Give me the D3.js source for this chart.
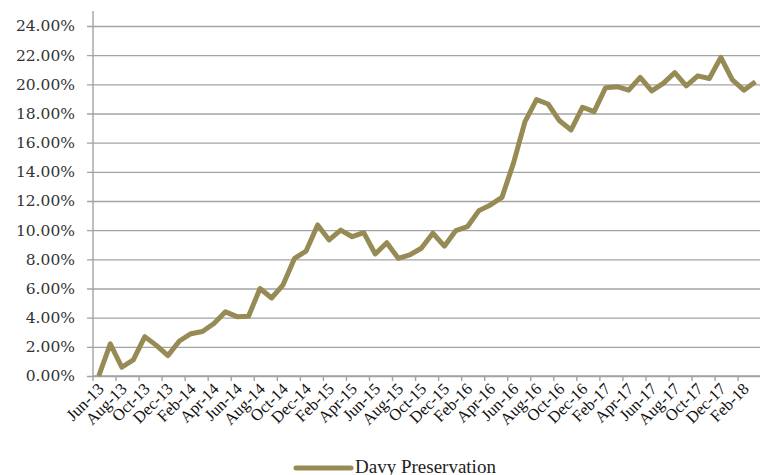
<!DOCTYPE html>
<html>
<head>
<meta charset="utf-8">
<script src="https://cdn.jsdelivr.net/npm/d3@7"></script>
<style>
  html, body { margin: 0; padding: 0; background: #fff; }
  #vis-line { width: 760px; height: 475px; overflow: hidden; }
  .chart-svg { display: block; }
</style>
</head>
<body>
<div id="vis-line"></div>
<script>
const months = [
  "Jun-13", "Jul-13", "Aug-13", "Sep-13", "Oct-13", "Nov-13", "Dec-13",
  "Jan-14", "Feb-14", "Mar-14", "Apr-14", "May-14", "Jun-14", "Jul-14",
  "Aug-14", "Sep-14", "Oct-14", "Nov-14", "Dec-14", "Jan-15", "Feb-15",
  "Mar-15", "Apr-15", "May-15", "Jun-15", "Jul-15", "Aug-15", "Sep-15",
  "Oct-15", "Nov-15", "Dec-15", "Jan-16", "Feb-16", "Mar-16", "Apr-16",
  "May-16", "Jun-16", "Jul-16", "Aug-16", "Sep-16", "Oct-16", "Nov-16",
  "Dec-16", "Jan-17", "Feb-17", "Mar-17", "Apr-17", "May-17", "Jun-17",
  "Jul-17", "Aug-17", "Sep-17", "Oct-17", "Nov-17", "Dec-17", "Jan-18",
  "Feb-18", "Mar-18",
];

// cumulative return, %
const preservation = [
  0.0, 2.2, 0.6, 1.1, 2.7, 2.1, 1.4,
  2.4, 2.9, 3.05, 3.6, 4.4, 4.07, 4.1,
  6.0, 5.35, 6.25, 8.07, 8.57, 10.36, 9.33,
  10.0, 9.55, 9.83, 8.37, 9.14, 8.07, 8.3,
  8.76, 9.79, 8.9, 9.97, 10.24, 11.34, 11.73,
  12.25, 14.6, 17.44, 18.95, 18.65, 17.5, 16.87,
  18.43, 18.13, 19.77, 19.84, 19.6, 20.48, 19.55,
  20.07, 20.8, 19.89, 20.58, 20.4, 21.85, 20.3,
  19.6, 20.18,
];

const yTicks = [0, 2, 4, 6, 8, 10, 12, 14, 16, 18, 20, 22, 24];
const seriesName = "Davy Preservation";

class LineChart {
  constructor({ categories, values, ticks, name }) {
    this.categories = categories;
    this.values = values;
    this.ticks = ticks;
    this.name = name;
    this.init();
  }

  init() {
    this.width = 760;
    this.height = 475;
    this.margin = { top: 11, left: 93, bottom: 376 };
    this.step = 11.52;

    this.x = d3
      .scaleBand()
      .domain(this.categories)
      .range([this.margin.left, this.margin.left + this.step * this.categories.length])
      .padding(0);

    this.y = d3.scaleLinear().domain([0, 24]).range([376, 26]);

    this.container = d3.select("#vis-line");
    this.svg = this.container
      .append("svg")
      .attr("class", "chart-svg")
      .attr("width", this.width)
      .attr("height", this.height);

    this.render();
  }

  render() {
    const gridColor = "#a3a3a3";
    const lineColor = "#978b55";
    const x0 = this.margin.left;
    const x1 = this.x.range()[1];

    // y axis with gridlines
    const yAxis = this.svg
      .append("g")
      .attr("class", "y-axis")
      .attr("transform", `translate(${x0},0)`)
      .call(
        d3
          .axisLeft(this.y)
          .tickValues(this.ticks)
          .tickSize(-(x1 - x0))
          .tickSizeOuter(0)
          .tickPadding(12)
          .tickFormat((d) => d3.format(".2f")(d) + "%")
      );
    yAxis.select(".domain").remove();
    yAxis
      .selectAll(".tick line")
      .attr("x1", -6)
      .attr("stroke", gridColor)
      .attr("stroke-width", 1.4);
    yAxis
      .selectAll(".tick text")
      .attr("x", -18)
      .attr("fill", "#333")
      .style("font-family", "'DejaVu Serif', serif")
      .style("font-size", "15.5px");

    this.svg
      .append("line")
      .attr("x1", x0)
      .attr("x2", x0)
      .attr("y1", this.margin.top)
      .attr("y2", this.y(0))
      .attr("stroke", gridColor)
      .attr("stroke-width", 1.4);

    // x axis: tick marks every second category boundary
    const xAxis = this.svg.append("g").attr("class", "x-axis");
    xAxis
      .append("line")
      .attr("x1", x0)
      .attr("x2", x1)
      .attr("y1", this.y(0))
      .attr("y2", this.y(0))
      .attr("stroke", gridColor)
      .attr("stroke-width", 1.4);

    const labelled = this.categories.filter((d, i) => i % 2 === 0);
    xAxis
      .selectAll(".tick-mark")
      .data(labelled)
      .join("line")
      .attr("class", "tick-mark")
      .attr("x1", (d) => this.x(d))
      .attr("x2", (d) => this.x(d))
      .attr("y1", this.y(0))
      .attr("y2", this.y(0) + 5)
      .attr("stroke", gridColor)
      .attr("stroke-width", 1.4);

    xAxis
      .selectAll(".tick-label")
      .data(labelled)
      .join("text")
      .attr("class", "tick-label")
      .attr("text-anchor", "end")
      .attr(
        "transform",
        (d) =>
          `translate(${this.x(d) + this.x.bandwidth() / 2 + 6},${this.y(0) + 14}) rotate(-45)`
      )
      .attr("fill", "#111")
      .style("font-family", "'Liberation Serif', serif")
      .style("font-size", "16.5px")
      .text((d) => d);

    // series
    const line = d3
      .line()
      .x((d, i) => this.x(this.categories[i]) + this.x.bandwidth() / 2)
      .y((d) => this.y(d));

    this.svg
      .append("path")
      .datum(this.values)
      .attr("fill", "none")
      .attr("stroke", lineColor)
      .attr("stroke-width", 5)
      .attr("stroke-linejoin", "round")
      .attr("d", line);

    // legend
    const legend = this.svg.append("g").attr("class", "legend");
    legend
      .append("line")
      .attr("x1", 296)
      .attr("x2", 351)
      .attr("y1", 468)
      .attr("y2", 468)
      .attr("stroke", lineColor)
      .attr("stroke-width", 5)
      .attr("stroke-linecap", "round");
    legend
      .append("text")
      .attr("x", 355)
      .attr("y", 473)
      .attr("fill", "#222")
      .style("font-family", "'Liberation Serif', serif")
      .style("font-size", "19px")
      .text(this.name);
  }
}

new LineChart({
  categories: months,
  values: preservation,
  ticks: yTicks,
  name: seriesName,
});
</script>
</body>
</html>
